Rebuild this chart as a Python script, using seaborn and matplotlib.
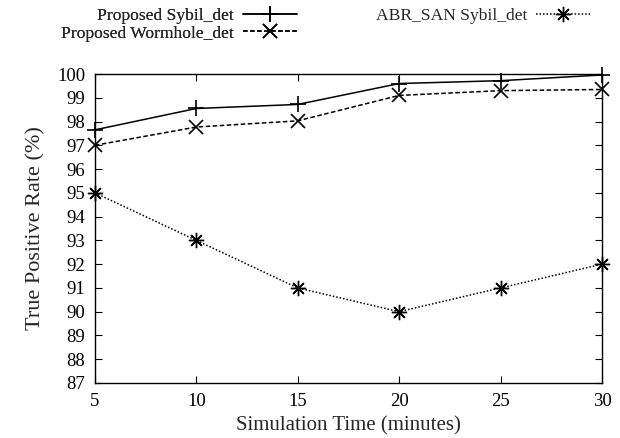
import matplotlib
matplotlib.use("Agg")
import matplotlib.pyplot as plt
import pandas as pd
import seaborn as sns

TIME = [5, 10, 15, 20, 25, 30]
SYBIL = [97.65, 98.55, 98.72, 99.6, 99.72, 99.96]
WORMHOLE = [97.0, 97.77, 98.03, 99.1, 99.3, 99.35]
ABR_SAN = [95, 93, 91, 90, 91, 92]

SERIES = ["Proposed Sybil_det", "Proposed Wormhole_det", "ABR_SAN Sybil_det"]
YTICKS = list(range(87, 101))
XTICKS = TIME

STYLE = {
    SERIES[0]: dict(marker="+", linestyle="-", markersize=12, markeredgewidth=1.2),
    SERIES[1]: dict(marker="x", linestyle=(0, (3, 1.6)), markersize=10, markeredgewidth=1.2),
    SERIES[2]: dict(marker=(8, 2, 0), linestyle=(0, (1, 1.3)), markersize=11, markeredgewidth=1.0),
}

sns.set_style("ticks")
plt.rcParams["font.family"] = ["Liberation Serif", "DejaVu Serif"]

fig = plt.figure(figsize=(6.2, 4.38), dpi=100)
ax = fig.add_axes([0.153, 0.1256, 0.818, 0.7054])

for name, vals in zip(SERIES, [SYBIL, WORMHOLE, ABR_SAN]):
    d = pd.DataFrame({"time": TIME, "tpr": vals})
    sns.lineplot(data=d, x="time", y="tpr", color="black", linewidth=1.1,
                 markeredgecolor="black", label=name, clip_on=False,
                 ax=ax, legend=False, **STYLE[name])

ax.set_xlim(5, 30)
ax.set_ylim(87, 100)
ax.set_xticks(XTICKS)
ax.set_yticks(YTICKS)
ax.tick_params(direction="in", top=True, right=True, length=5, labelsize=13.5,
               colors="black", width=0.8, pad=7)
for s in ax.spines.values():
    s.set_linewidth(1.0)
    s.set_color("black")
ax.set_xlabel("Simulation Time (minutes)", fontsize=15, labelpad=5)
ax.set_ylabel("True Positive Rate (%)", fontsize=16, labelpad=8)

lines = ax.get_lines()
leg_kw = dict(loc="upper right", markerfirst=False, frameon=False, fontsize=12.6,
              handlelength=3.1, handletextpad=0.5, labelspacing=0.06,
              borderpad=0, borderaxespad=0)
leg1 = fig.legend(lines[:2], SERIES[:2], bbox_to_anchor=(297 / 620, 1 - 8 / 438), **leg_kw)
fig.add_artist(leg1)
fig.legend(lines[2:], SERIES[2:], bbox_to_anchor=(590 / 620, 1 - 8 / 438), **leg_kw)

fig.savefig("out.png", dpi=100)
